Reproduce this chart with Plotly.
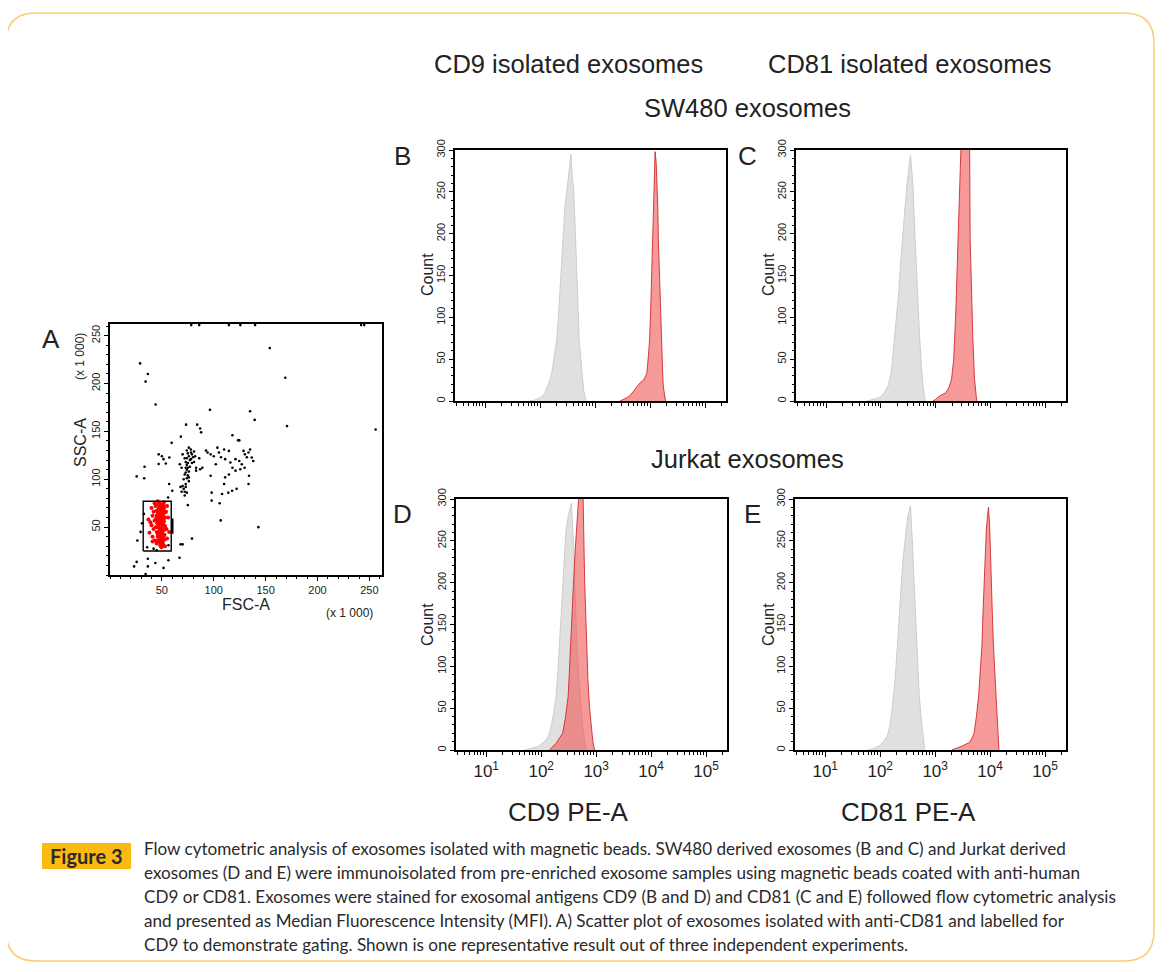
import plotly.graph_objects as go

W, H = 1170, 972
OFF = 8  # page body margin in the browser


def fx(p):
    return (p - OFF) / W


def fy(p):
    return 1 - (p - OFF) / H


# ---------------- DATA ----------------
# Panel A: FSC-A vs SSC-A (x 1000)
blk_fsc = [29, 36.5, 34.3, 44, 154, 169, 170.6, 135, 139.4, 96.3, 73.3, 84, 86.9, 87.8, 59.4, 68.3, 118, 123.4, 256,
           33.3, 25.7, 33, 46.9, 46.9, 50, 51.6, 53.8, 57.2, 67.3, 69,
           70, 72, 73, 74, 75, 76, 72, 74, 76, 78, 79, 80, 81, 82, 78, 77, 73, 71, 72, 74, 69, 72, 68, 75, 83, 81, 86,
           74, 75, 76, 77, 75, 74, 73, 75, 76, 79, 78, 76, 74, 73, 71, 70, 73,
           68, 67, 70, 79, 57, 60, 56,
           92.5, 94, 97, 100, 103.5, 105, 107, 110, 111, 114.6, 116, 118, 121, 114.6, 111, 110, 114, 117.7, 122, 124.6,
           127, 129.7, 131.9, 133.5, 135, 136.6, 138, 134, 133.5, 124.6, 128.7, 108, 98, 98, 105.7, 106.7, 143, 89, 86.9,
           83, 97, 102, 120.9, 130, 125.6,
           30.8, 29.5, 26.4, 23.2, 25.7, 34.3, 36.5, 36.5, 43.7, 51.6, 45, 56.3, 32.7, 35.8, 42, 56.3,
           78.3, 86, 114.6, 125.6, 139.8, 242, 245]
blk_ssc = [221, 210, 202, 178, 237, 206, 155.5, 171, 162, 172.5, 157, 157, 153, 149, 138, 144.5, 146, 140.7, 152,
           113, 103, 101, 126, 116, 124, 121, 116.4, 122.7, 115.7, 112,
           126, 122, 118, 115, 112, 108, 105, 101, 98, 121, 126, 123, 129, 124, 131, 113, 95, 90, 87, 86, 87, 83, 92, 73, 112, 118, 122,
           130, 127, 124, 120, 117, 110, 107, 104, 102, 117, 128, 133, 122, 112, 100, 93, 92,
           32, 18, 32, 38, 95, 88, 81,
           130, 128, 126, 124, 133, 128, 123, 131, 121, 129.6, 117.5, 112, 109, 105, 102, 95, 86, 88, 90, 119,
           115.7, 112, 123, 128, 131, 122.7, 119, 103.6, 95, 140.6, 129.6, 84.6, 86, 77.7, 75, 57, 50, 112, 110.5,
           109, 103.6, 115.7, 121, 126, 110.5,
           54, 45, 36, 9, 13.7, 1, 17, 9, 12.6, 7.4, 25.8, 15.4, 63.8, 29, 27.5, 31,
           261, 261, 261, 261, 261, 261, 261]

red_fsc = [46.5, 48, 50, 52, 44, 47, 49.5, 51.5, 45, 48, 50.5, 52.5, 46, 49, 51, 53, 44.5, 47.5, 50, 52,
           45.5, 48.5, 51, 53, 44, 47, 49.5, 52, 45, 48, 50.5, 52.5, 46, 49, 51, 47.5, 50, 48.5, 49.5, 51,
           47, 49, 51, 48, 50, 46.5, 52, 45.5, 48, 50.5, 46, 49.5, 51.5, 47.5, 50, 45, 48.5, 52, 49, 50.5,
           47, 49, 51, 48, 50, 52, 46, 48.5, 50.5, 47.5, 49.5, 51.5, 46.5, 48, 50, 52, 47, 49, 51, 48.5,
           50, 46, 48, 50.5, 52.5, 47.5, 49.5, 51, 48.5, 50,
           40, 41, 39, 42, 38, 41, 43, 55, 56, 54.5, 55, 43, 42, 37, 45, 53, 54, 40, 43, 46, 57, 41]
red_ssc = [74, 75, 73, 76, 72, 70, 71, 69, 67, 66, 67, 65, 63, 62, 61, 60, 59, 58, 57, 56,
           54, 53, 52, 51, 50, 49, 48, 47, 45, 44, 43, 42, 40, 39, 38, 35, 34, 31, 29, 32,
           64, 68, 55, 46, 60, 51, 41, 58, 72, 63, 36, 54, 73, 42, 49, 62, 57, 70, 45, 37,
           74, 72, 71, 69, 68, 66, 65, 64, 62, 61, 59, 58, 56, 55, 53, 52, 50, 48, 47, 45,
           43, 42, 40, 38, 37, 36, 33, 35, 34, 30,
           70, 62, 55, 48, 44, 40, 36, 72, 60, 48, 38, 75, 66, 58, 33, 30, 66, 52, 57, 77, 45, 35]

gate_fsc = [32, 59]
gate_ssc = [25, 77]

# Histograms: log10 fluorescence and counts
b_grey_log = [1.80, 1.90, 1.96, 2.02, 2.08, 2.12, 2.16, 2.21, 2.25, 2.30, 2.33, 2.36, 2.39, 2.42, 2.45, 2.48, 2.51,
              2.53, 2.56, 2.58, 2.61, 2.64, 2.67, 2.69, 2.71, 2.74, 2.76, 2.79, 2.82, 2.85]
b_grey_cnt = [0, 1, 3, 5, 9, 15, 22, 33, 50, 73, 100, 133, 165, 192, 232, 248, 268, 280, 295, 270, 252, 200, 153, 110,
              73, 50, 33, 13, 3, 0]
b_red_log = [3.45, 3.52, 3.58, 3.64, 3.70, 3.76, 3.82, 3.88, 3.91, 3.94, 3.97, 3.99, 4.01, 4.03, 4.05, 4.07, 4.09,
             4.11, 4.12, 4.14, 4.15, 4.17, 4.18, 4.20, 4.21, 4.23, 4.24, 4.26, 4.28]
b_red_cnt = [0, 2, 4, 7, 12, 17, 22, 25, 30, 33, 55, 73, 110, 153, 200, 260, 298, 285, 272, 230, 192, 150, 113, 80,
             53, 30, 17, 5, 0]

c_grey_log = [1.74, 1.85, 1.98, 2.06, 2.13, 2.19, 2.25, 2.29, 2.33, 2.36, 2.39, 2.44, 2.47, 2.50, 2.54, 2.56, 2.59,
              2.62, 2.65, 2.68, 2.71, 2.74, 2.77, 2.81]
c_grey_cnt = [0, 2, 4, 10, 18, 34, 73, 100, 133, 165, 193, 232, 255, 272, 294, 280, 252, 200, 153, 110, 73, 40, 18, 0]
c_red_log = [2.95, 3.00, 3.07, 3.13, 3.19, 3.24, 3.29, 3.33, 3.35, 3.37, 3.39, 3.42, 3.45, 3.47, 3.50, 3.54, 3.58,
             3.62, 3.63, 3.65, 3.68, 3.71, 3.73, 3.75]
c_red_cnt = [0, 2, 6, 8, 10, 16, 26, 50, 73, 110, 153, 232, 280, 320, 335, 345, 330, 310, 193, 130, 73, 26, 10, 0]

d_grey_log = [1.70, 1.82, 1.94, 2.02, 2.09, 2.14, 2.18, 2.23, 2.27, 2.30, 2.33, 2.36, 2.39, 2.42, 2.45, 2.50, 2.55,
              2.57, 2.59, 2.62, 2.65, 2.69, 2.73, 2.76, 2.79, 2.82]
d_grey_cnt = [0, 2, 4, 8, 12, 18, 28, 45, 64, 90, 123, 160, 203, 235, 262, 282, 295, 270, 243, 180, 123, 80, 44, 25,
              12, 0]
d_red_log = [2.15, 2.20, 2.27, 2.33, 2.39, 2.44, 2.49, 2.51, 2.53, 2.56, 2.59, 2.62, 2.64, 2.66, 2.68, 2.70, 2.72,
             2.74, 2.76, 2.79, 2.82, 2.85, 2.88, 2.91, 2.94, 2.97]
d_red_cnt = [0, 3, 8, 14, 20, 38, 64, 90, 123, 160, 203, 240, 262, 290, 315, 330, 340, 325, 310, 203, 140, 84, 50, 24,
             10, 0]

e_grey_log = [1.78, 1.88, 1.98, 2.06, 2.13, 2.18, 2.21, 2.24, 2.27, 2.30, 2.33, 2.36, 2.38, 2.41, 2.44, 2.47, 2.50,
              2.55, 2.57, 2.59, 2.62, 2.65, 2.68, 2.71, 2.75, 2.78, 2.81]
e_grey_cnt = [0, 2, 5, 10, 17, 30, 45, 62, 84, 112, 144, 175, 203, 225, 243, 262, 278, 292, 270, 243, 195, 144, 100,
              65, 35, 13, 0]
e_red_log = [3.30, 3.35, 3.42, 3.50, 3.56, 3.62, 3.67, 3.71, 3.75, 3.79, 3.82, 3.85, 3.87, 3.89, 3.91, 3.93, 3.95,
             3.97, 3.99, 4.00, 4.02, 4.04, 4.06, 4.09, 4.11, 4.13, 4.16]
e_red_cnt = [0, 1, 3, 5, 7, 9, 14, 21, 40, 65, 95, 124, 165, 203, 235, 262, 278, 290, 270, 243, 200, 163, 125, 84,
             50, 25, 0]

log_tick_vals = [10, 100, 1000, 10000, 100000]
log_tick_text = ["10<sup>1</sup>", "10<sup>2</sup>", "10<sup>3</sup>", "10<sup>4</sup>", "10<sup>5</sup>"]
count_ticks = [0, 50, 100, 150, 200, 250, 300]
scatter_ticks = [50, 100, 150, 200, 250]

caption_lines = [
    "Flow cytometric analysis of exosomes isolated with magnetic beads. SW480 derived exosomes (B and C) and Jurkat derived",
    "exosomes (D and E) were immunoisolated from pre-enriched exosome samples using magnetic beads coated with anti-human",
    "CD9 or CD81. Exosomes were stained for exosomal antigens CD9 (B and D) and CD81 (C and E) followed flow cytometric analysis",
    "and presented as Median Fluorescence Intensity (MFI). A) Scatter plot of exosomes isolated with anti-CD81 and labelled for",
    "CD9 to demonstrate gating. Shown is one representative result out of three independent experiments.",
]

# ---------------- FIGURE ----------------
FONT = "Liberation Sans, Arial, sans-serif"
GREY_FILL = "rgb(224,224,224)"
GREY_LINE = "rgb(205,205,205)"
RED_FILL = "rgba(240,85,85,0.6)"
RED_LINE = "rgba(205,35,35,0.85)"

fig = go.Figure()

# Panel A
fig.add_trace(go.Scatter(x=blk_fsc, y=blk_ssc, mode="markers", xaxis="x", yaxis="y",
                         marker=dict(color="black", size=2.6), cliponaxis=False, showlegend=False))
fig.add_trace(go.Scatter(x=red_fsc, y=red_ssc, mode="markers", xaxis="x", yaxis="y",
                         marker=dict(color="#ff0000", size=4), showlegend=False))
fig.add_trace(go.Scatter(x=[gate_fsc[0], gate_fsc[1], gate_fsc[1], gate_fsc[0], gate_fsc[0]],
                         y=[gate_ssc[0], gate_ssc[0], gate_ssc[1], gate_ssc[1], gate_ssc[0]],
                         mode="lines", xaxis="x", yaxis="y", line=dict(color="black", width=1.4),
                         showlegend=False))
fig.add_trace(go.Scatter(x=[gate_fsc[1] + 1, gate_fsc[1] + 1],
                         y=[(gate_ssc[0] + gate_ssc[1]) / 2 - 8, (gate_ssc[0] + gate_ssc[1]) / 2 + 8],
                         mode="lines", xaxis="x", yaxis="y", line=dict(color="black", width=2.5),
                         showlegend=False))


def add_hist(ax, logs, cnts, fill, line):
    fig.add_trace(go.Scatter(x=[10 ** v for v in logs], y=cnts, mode="lines", fill="tozeroy",
                             fillcolor=fill, line=dict(color=line, width=1), xaxis="x" + ax, yaxis="y" + ax,
                             showlegend=False, hoverinfo="skip"))


add_hist("2", b_grey_log, b_grey_cnt, GREY_FILL, GREY_LINE)
add_hist("2", b_red_log, b_red_cnt, RED_FILL, RED_LINE)
add_hist("3", c_grey_log, c_grey_cnt, GREY_FILL, GREY_LINE)
add_hist("3", c_red_log, c_red_cnt, RED_FILL, RED_LINE)
add_hist("4", d_grey_log, d_grey_cnt, GREY_FILL, GREY_LINE)
add_hist("4", d_red_log, d_red_cnt, RED_FILL, RED_LINE)
add_hist("5", e_grey_log, e_grey_cnt, GREY_FILL, GREY_LINE)
add_hist("5", e_red_log, e_red_cnt, RED_FILL, RED_LINE)

base_axis = dict(showline=True, linecolor="black", linewidth=1.6, mirror=True, showgrid=False, zeroline=False,
                 ticks="outside", ticklen=4, tickcolor="black", tickwidth=1, automargin=False,
                 tickfont=dict(family=FONT, size=11, color="#222"))

layout_axes = {}
# Panel A axes
layout_axes["xaxis"] = dict(base_axis, domain=[fx(110), fx(382)], range=[0, 262.144], anchor="y",
                            tickmode="array", tickvals=scatter_ticks,
                            minor=dict(ticks="outside", ticklen=2.5, dtick=10, tick0=0, tickcolor="black"))
layout_axes["yaxis"] = dict(base_axis, domain=[fy(575), fy(324)], range=[0, 262.144], anchor="x",
                            tickmode="array", tickvals=scatter_ticks, tickangle=-90,
                            minor=dict(ticks="outside", ticklen=2.5, dtick=10, tick0=0, tickcolor="black"))

hist_dom = {
    "2": ([455, 726], [401, 150]),
    "3": ([796, 1066], [401, 150]),
    "4": ([456, 727], [750, 499]),
    "5": ([795, 1066], [750, 499]),
}
for ax, (xd, yd) in hist_dom.items():
    layout_axes["xaxis" + ax] = dict(base_axis, type="log", domain=[fx(xd[0]), fx(xd[1])], range=[0.45, 5.38],
                                     anchor="y" + ax, tickmode="array", tickvals=log_tick_vals,
                                     ticktext=log_tick_text, ticklen=5,
                                     showticklabels=ax in ("4", "5"),
                                     tickfont=dict(family=FONT, size=17, color="#222"),
                                     minor=dict(ticks="outside", ticklen=3, dtick="D1", tickcolor="black"))
    layout_axes["yaxis" + ax] = dict(base_axis, domain=[fy(yd[0]), fy(yd[1])], range=[0, 300],
                                     anchor="x" + ax, tickmode="array", tickvals=count_ticks, tickangle=-90,
                                     minor=dict(ticks="outside", ticklen=2.5, dtick=10, tick0=0,
                                                tickcolor="black"))

annotations = []


def txt(x, y, s, size, angle=0, color="#222", font=FONT, xanchor="center", yanchor="middle"):
    annotations.append(dict(x=fx(x), y=fy(y), xref="paper", yref="paper", text=s, showarrow=False,
                            textangle=angle, xanchor=xanchor, yanchor=yanchor,
                            font=dict(family=font, size=size, color=color)))


txt(568, 64, "CD9 isolated exosomes", 25.5)
txt(909, 64, "CD81 isolated exosomes", 25.5)
txt(747, 108, "SW480 exosomes", 25.5)
txt(747, 459, "Jurkat exosomes", 25.5)
txt(568, 812, "CD9 PE-A", 26)
txt(908, 812, "CD81 PE-A", 26)
txt(51, 339, "A", 26)
txt(402, 156, "B", 26)
txt(747, 156, "C", 26)
txt(402, 514, "D", 26)
txt(752, 514, "E", 26)
for xc in (427, 768):
    txt(xc, 275, "Count", 16, angle=-90)
    txt(xc, 625, "Count", 16, angle=-90)
txt(80, 443, "SSC-A", 16, angle=-90)
txt(246, 604, "FSC-A", 16)
txt(80, 357, "(x 1 000)", 12, angle=-90)
txt(349, 613, "(x 1 000)", 12)

# Caption
CAP_FONT = "Lato, Open Sans, sans-serif"
for i, line in enumerate(caption_lines):
    txt(142, 848 + i * 24.2, line, 17.1, color="#2a2a2a", font=CAP_FONT, xanchor="left")
txt(86.5, 856, "<b>Figure 3</b>", 20, color="#2a2a2a", font=CAP_FONT)

# Frame with rounded corners
L, R, T, B, r = 6, 1154, 13, 961, 30
path = (f"M {fx(L + r)},{fy(T)} L {fx(R - r)},{fy(T)} Q {fx(R)},{fy(T)} {fx(R)},{fy(T + r)} "
        f"L {fx(R)},{fy(B - r)} Q {fx(R)},{fy(B)} {fx(R - r)},{fy(B)} "
        f"L {fx(L + r)},{fy(B)} Q {fx(L)},{fy(B)} {fx(L)},{fy(B - r)} "
        f"L {fx(L)},{fy(T + r)} Q {fx(L)},{fy(T)} {fx(L + r)},{fy(T)} Z")
shapes = [
    dict(type="path", path=path, xref="paper", yref="paper", line=dict(color="#FDCB6E", width=1.5),
         fillcolor="rgba(0,0,0,0)", layer="below"),
    dict(type="rect", xref="paper", yref="paper", x0=fx(42), x1=fx(131), y0=fy(869), y1=fy(843),
         fillcolor="#FDB913", line=dict(width=0), layer="below"),
]

fig.update_layout(width=W, height=H, margin=dict(l=0, r=0, t=0, b=0, pad=0, autoexpand=False),
                  paper_bgcolor="white", plot_bgcolor="rgba(0,0,0,0)", showlegend=False,
                  annotations=annotations, shapes=shapes, **layout_axes)

fig.write_html("out.html")
